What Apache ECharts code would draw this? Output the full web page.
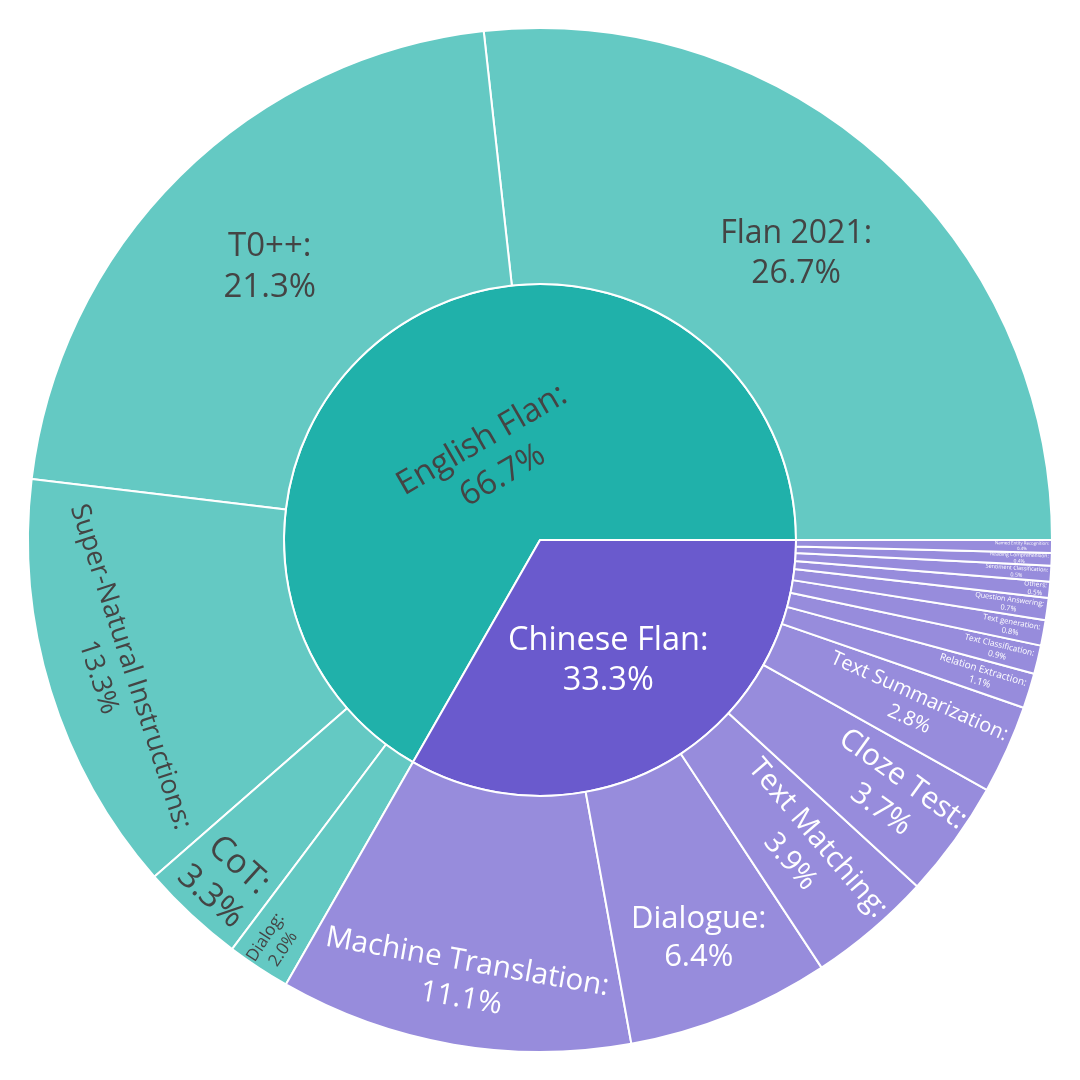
<!DOCTYPE html>
<html style="height: 100%">

<head>
  <meta charset="UTF-8">
  <title>Flan collection sunburst</title>
  <script src="https://cdn.jsdelivr.net/npm/echarts/dist/echarts.min.js"></script>
</head>

<body style="height: 1080px; width: 1080px; margin: 0; background-color: #ffffff;">
  <div id="main" style="width: 100%; height: 100%;"></div>
  <script type="text/javascript">
    var myChart = echarts.init(document.getElementById('main'));

    // inner ring
    const groupNames = ['English Flan', 'Chinese Flan'];
    const groupShares = [66.7, 33.3];

    // outer ring
    const englishNames = ['Flan 2021', 'T0++', 'Super-Natural Instructions', 'CoT', 'Dialog'];
    const englishValues = [26.7, 21.3, 13.3, 3.3, 2.0];

    const chineseNames = ['Machine Translation', 'Dialogue', 'Text Matching', 'Cloze Test',
      'Text Summarization', 'Relation Extraction', 'Text Classification', 'Text generation',
      'Question Answering', 'Others', 'Sentiment Classification', 'Reading Comprehension',
      'Named Entity Recognition'];
    const chineseValues = [11.1, 6.4, 3.9, 3.7, 2.8, 1.1, 0.9, 0.8, 0.7, 0.5, 0.5, 0.4, 0.4];

    // label look per node (size / rotation / placement inside the sector)
    const labelLook = {
      'English Flan': { fontSize: 33, rotate: 30, padding: [66, 0, 0, 0] },
      'Chinese Flan': { fontSize: 32.5, rotate: 0, padding: [20, 0, 0, 8] },
      'Flan 2021': { fontSize: 32, rotate: 0 },
      'T0++': { fontSize: 33, rotate: 0 },
      'Super-Natural Instructions': { fontSize: 27, rotate: -72, verticalAlign: 'top', padding: [28, 0, 0, 0] },
      'CoT': { fontSize: 34, rotate: -42, verticalAlign: 'top', padding: [38, 0, 0, 0] },
      'Dialog': { fontSize: 17, rotate: 'radial', align: 'right', distance: 2 },
      'Machine Translation': { fontSize: 29.5, rotate: -10, verticalAlign: 'top', padding: [26, 0, 0, 0] },
      'Dialogue': { fontSize: 31, rotate: 0, verticalAlign: 'top', padding: [3, 0, 0, 32] },
      'Text Matching': { fontSize: 29, rotate: 'radial', align: 'right', distance: 6 },
      'Cloze Test': { fontSize: 30, rotate: 'radial', align: 'right', distance: 3 },
      'Text Summarization': { fontSize: 20, rotate: 'radial', align: 'right', distance: 6 },
      'Relation Extraction': { fontSize: 10, rotate: 'radial', align: 'right', distance: 5 },
      'Text Classification': { fontSize: 8.3, rotate: 'radial', align: 'right', distance: 5 },
      'Text generation': { fontSize: 7.7, rotate: 'radial', align: 'right', distance: 4 },
      'Question Answering': { fontSize: 7.2, rotate: 'radial', align: 'right', distance: 4 },
      'Others': { fontSize: 6.6, rotate: 'radial', align: 'right', distance: 3 },
      'Sentiment Classification': { fontSize: 5.5, rotate: 'radial', align: 'right', distance: 3 },
      'Reading Comprehension': { fontSize: 5, rotate: 'radial', align: 'right', distance: 3 },
      'Named Entity Recognition': { fontSize: 4.4, rotate: 'radial', align: 'right', distance: 3 }
    };

    const colors = {
      englishInner: '#20B1AA', englishOuter: '#64C9C3',
      chineseInner: '#6A5ACD', chineseOuter: '#978CDC'
    };

    function makeLabel(name, textColor) {
      const look = labelLook[name];
      const fs = look.fontSize;
      const lab = {
        show: true,
        color: textColor,
        fontSize: fs,
        rotate: look.rotate,
        rich: {
          t: { align: 'center', fontSize: fs, lineHeight: fs * 1.25, color: textColor, fontFamily: 'Open Sans' }
        }
      };
      if (look.align) lab.align = look.align;
      if (look.distance != null) lab.distance = look.distance;
      if (look.verticalAlign) lab.verticalAlign = look.verticalAlign;
      if (look.padding) lab.padding = look.padding;
      return lab;
    }

    function leaves(names, values, color, textColor) {
      return names.map((n, i) => ({
        name: n,
        value: values[i],
        itemStyle: { color: color },
        label: makeLabel(n, textColor)
      }));
    }

    const data = [
      {
        name: groupNames[0],
        share: groupShares[0],
        itemStyle: { color: colors.englishInner },
        label: makeLabel(groupNames[0], '#444444'),
        children: leaves(englishNames, englishValues, colors.englishOuter, '#444444')
      },
      {
        name: groupNames[1],
        share: groupShares[1],
        itemStyle: { color: colors.chineseInner },
        label: makeLabel(groupNames[1], '#ffffff'),
        children: leaves(chineseNames, chineseValues, colors.chineseOuter, '#ffffff')
      }
    ];

    var option = {
      backgroundColor: '#ffffff',
      animation: false,
      textStyle: { fontFamily: 'Open Sans' },
      series: [
        {
          type: 'sunburst',
          center: ['50%', '50%'],
          radius: [0, 512],
          startAngle: 0,
          clockwise: false,
          sort: null,
          nodeClick: false,
          emphasis: { disabled: true },
          itemStyle: {
            borderColor: '#ffffff',
            borderWidth: 2
          },
          label: {
            fontFamily: 'Open Sans',
            minAngle: 0,
            formatter: function (p) {
              const v = p.data.share != null ? p.data.share : p.value;
              return '{t|' + p.name + ':}\n{t|' + v.toFixed(1) + '%}';
            }
          },
          data: data
        }
      ]
    };

    myChart.setOption(option);
  </script>
</body>

</html>
